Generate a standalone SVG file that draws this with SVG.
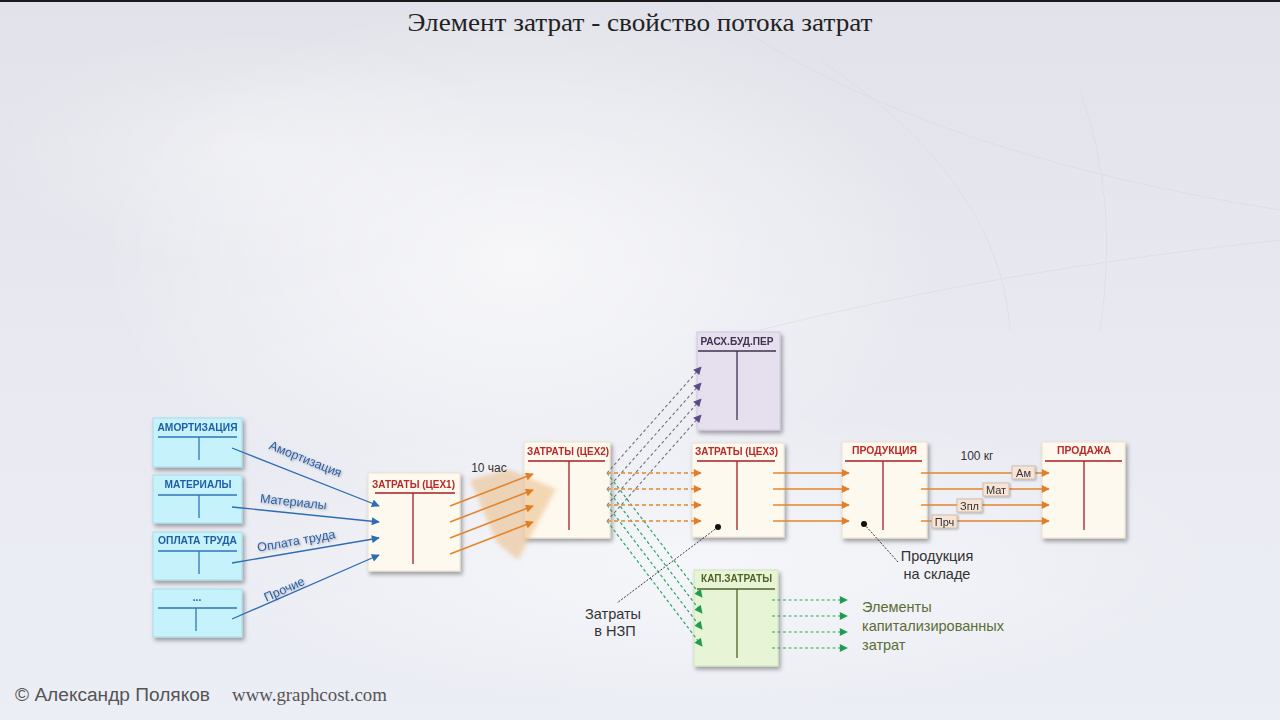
<svg xmlns="http://www.w3.org/2000/svg" width="1280" height="720" viewBox="0 0 1280 720">
<defs>
  <linearGradient id="bg" x1="0" y1="0" x2="0" y2="1">
    <stop offset="0" stop-color="#e2e3ea"/>
    <stop offset="0.5" stop-color="#e9eaf1"/>
    <stop offset="1" stop-color="#eceef5"/>
  </linearGradient>
  <radialGradient id="glow1" cx="0.5" cy="0.5" r="0.5">
    <stop offset="0" stop-color="#ffffff" stop-opacity="0.95"/>
    <stop offset="1" stop-color="#ffffff" stop-opacity="0"/>
  </radialGradient>
  <filter id="shadow" x="-20%" y="-20%" width="150%" height="150%">
    <feDropShadow dx="2" dy="3" stdDeviation="2.2" flood-color="#000" flood-opacity="0.35"/>
  </filter>
  <filter id="tshadow" x="-10%" y="-30%" width="120%" height="160%">
    <feDropShadow dx="1" dy="1" stdDeviation="0.8" flood-color="#000" flood-opacity="0.3"/>
  </filter>
  <filter id="blur2"><feGaussianBlur stdDeviation="2"/></filter>
  <marker id="mBlue" viewBox="0 0 10 10" refX="9" refY="5" markerWidth="9" markerHeight="8" markerUnits="userSpaceOnUse" orient="auto">
    <path d="M0,0 L10,5 L0,10 z" fill="#2e6db4"/>
  </marker>
  <marker id="mOrange" viewBox="0 0 10 10" refX="9" refY="5" markerWidth="9" markerHeight="8" markerUnits="userSpaceOnUse" orient="auto">
    <path d="M0,0 L10,5 L0,10 z" fill="#e07f28"/>
  </marker>
  <marker id="mPurple" viewBox="0 0 10 10" refX="9" refY="5" markerWidth="9" markerHeight="8" markerUnits="userSpaceOnUse" orient="auto">
    <path d="M0,0 L10,5 L0,10 z" fill="#5b4a86"/>
  </marker>
  <marker id="mGreen" viewBox="0 0 10 10" refX="9" refY="5" markerWidth="9" markerHeight="8" markerUnits="userSpaceOnUse" orient="auto">
    <path d="M0,0 L10,5 L0,10 z" fill="#1f9e4f"/>
  </marker>
  <style>
    .title { font-family: "Liberation Serif", "DejaVu Serif", serif; font-size: 25px; fill: #222; }
    .foot { font-family: "Liberation Sans", "DejaVu Sans", sans-serif; font-size: 18px; fill: #555; }
    .footw { font-family: "Liberation Serif", "DejaVu Serif", serif; font-size: 19px; fill: #555; }
    .cyan { fill: #c6f2fb; stroke: #a8dbe7; stroke-width: 1; }
    .cream { fill: #fdf9ee; stroke: #e9e2cf; stroke-width: 1; }
    .lav { fill: #e5dfee; stroke: #cfc7dd; stroke-width: 1; }
    .lgreen { fill: #e7f5d6; stroke: #cfe3bb; stroke-width: 1; }
    .hd { font-family: "Liberation Sans", "DejaVu Sans", sans-serif; font-size: 10px; font-weight: bold; text-anchor: middle; }
    .hblue { fill: #1f5fa8; }
    .hred { fill: #b82a26; }
    .hpur { fill: #3f3151; }
    .hgrn { fill: #4f6228; }
    .tblue { stroke: #2e75b6; stroke-width: 1.3; fill: none; }
    .tred { stroke: #a81e22; stroke-width: 1.3; fill: none; }
    .tpur { stroke: #3f3151; stroke-width: 1.3; fill: none; }
    .tgrn { stroke: #4f6228; stroke-width: 1.3; fill: none; }
    .blue { stroke: #2e6db4; stroke-width: 1.3; fill: none; }
    .or { stroke: #e5852d; stroke-width: 1.6; fill: none; }
    .ord { stroke: #e5852d; stroke-width: 1.5; fill: none; stroke-dasharray: 4 3; }
    .gry { stroke: #707078; stroke-width: 1.1; fill: none; stroke-dasharray: 3 2.5; }
    .grn { stroke: #2aa864; stroke-width: 1.2; fill: none; stroke-dasharray: 3 2.5; }
    .blk { stroke: #222; stroke-width: 0.9; fill: none; stroke-dasharray: 2 1.5; }
    .lbl { font-family: "Liberation Sans", "DejaVu Sans", sans-serif; font-size: 12.5px; fill: #2a5fa5; }
    .note { font-family: "Liberation Sans", "DejaVu Sans", sans-serif; font-size: 14.5px; fill: #333; text-anchor: middle; }
    .small { font-family: "Liberation Sans", "DejaVu Sans", sans-serif; font-size: 12px; fill: #333; text-anchor: middle; }
    .gnote { font-family: "Liberation Sans", "DejaVu Sans", sans-serif; font-size: 14.5px; fill: #5a6e33; }
    .tag { fill: #f7e4d6; stroke: #c9b5a5; stroke-width: 0.8; }
    .tagt { font-family: "Liberation Sans", "DejaVu Sans", sans-serif; font-size: 11px; fill: #333; text-anchor: middle; }
  </style>
</defs>

<!-- background -->
<rect x="0" y="0" width="1280" height="720" fill="url(#bg)"/>
<ellipse cx="520" cy="260" rx="420" ry="260" fill="url(#glow1)" opacity="0.7"/>
<ellipse cx="700" cy="560" rx="520" ry="150" fill="url(#glow1)" opacity="0.6"/>
<ellipse cx="250" cy="150" rx="260" ry="120" fill="url(#glow1)" opacity="0.35"/>
<g fill="none" stroke="#d3d6e0" stroke-width="1" opacity="0.5">
  <path d="M700 0 Q 900 150 1280 210"/>
  <path d="M760 330 Q 1000 270 1280 240"/>
  <path d="M820 60 Q 1000 180 1010 330"/>
  <path d="M1080 90 Q 1120 200 1100 330"/>
</g>
<rect x="0" y="0" width="1280" height="2" fill="#1a1a1a"/>

<!-- title -->
<text class="title" x="640" y="31" text-anchor="middle" textLength="465" lengthAdjust="spacingAndGlyphs">Элемент затрат - свойство потока затрат</text>

<!-- left source boxes -->
<g id="n-amort" filter="url(#shadow)">
  <rect class="cyan" x="153" y="418" width="89" height="49"/>
  <text class="hd hblue" x="197.5" y="431" textLength="80" lengthAdjust="spacingAndGlyphs">АМОРТИЗАЦИЯ</text>
  <line class="tblue" x1="158" y1="437" x2="237" y2="437"/>
  <line class="tblue" x1="199" y1="437" x2="199" y2="460"/>
</g>
<g id="n-mat" filter="url(#shadow)">
  <rect class="cyan" x="153" y="475" width="89" height="48"/>
  <text class="hd hblue" x="198" y="488" textLength="67" lengthAdjust="spacingAndGlyphs">МАТЕРИАЛЫ</text>
  <line class="tblue" x1="158" y1="495" x2="237" y2="495"/>
  <line class="tblue" x1="199" y1="495" x2="199" y2="518"/>
</g>
<g id="n-opl" filter="url(#shadow)">
  <rect class="cyan" x="153" y="532" width="89" height="48"/>
  <text class="hd hblue" x="197.5" y="544" textLength="79" lengthAdjust="spacingAndGlyphs">ОПЛАТА ТРУДА</text>
  <line class="tblue" x1="158" y1="551" x2="237" y2="551"/>
  <line class="tblue" x1="199" y1="551" x2="199" y2="574"/>
</g>
<g id="n-other" filter="url(#shadow)">
  <rect class="cyan" x="153" y="589" width="89" height="48"/>
  <text class="hd hblue" x="197" y="601" font-size="9">...</text>
  <line class="tblue" x1="158" y1="608" x2="237" y2="608"/>
  <line class="tblue" x1="196" y1="608" x2="196" y2="631"/>
</g>

<!-- accounts -->
<g id="n-tsekh1" filter="url(#shadow)">
  <rect class="cream" x="368" y="473" width="92" height="98"/>
  <text class="hd hred" x="413.5" y="488" textLength="83" lengthAdjust="spacingAndGlyphs">ЗАТРАТЫ (ЦЕХ1)</text>
  <line class="tred" x1="375" y1="493" x2="455" y2="493"/>
  <line class="tred" x1="413" y1="493" x2="413" y2="564"/>
</g>
<g id="n-tsekh2" filter="url(#shadow)">
  <rect class="cream" x="524" y="442" width="86" height="96"/>
  <text class="hd hred" x="568" y="455" textLength="82" lengthAdjust="spacingAndGlyphs">ЗАТРАТЫ (ЦЕХ2)</text>
  <line class="tred" x1="528" y1="461" x2="605" y2="461"/>
  <line class="tred" x1="569" y1="461" x2="569" y2="530"/>
</g>
<g id="n-rasx" filter="url(#shadow)">
  <rect class="lav" x="697" y="332" width="83" height="98"/>
  <text class="hd hpur" x="737" y="345" textLength="73" lengthAdjust="spacingAndGlyphs">РАСХ.БУД.ПЕР</text>
  <line class="tpur" x1="698" y1="351" x2="776" y2="351"/>
  <line class="tpur" x1="737" y1="351" x2="737" y2="420"/>
</g>
<g id="n-tsekh3" filter="url(#shadow)">
  <rect class="cream" x="692" y="443" width="92" height="94"/>
  <text class="hd hred" x="736.5" y="455" textLength="83" lengthAdjust="spacingAndGlyphs">ЗАТРАТЫ (ЦЕХ3)</text>
  <line class="tred" x1="697" y1="461" x2="775" y2="461"/>
  <line class="tred" x1="737" y1="461" x2="737" y2="530"/>
</g>
<g id="n-kap" filter="url(#shadow)">
  <rect class="lgreen" x="694" y="570" width="84" height="96"/>
  <text class="hd hgrn" x="736.5" y="582" textLength="71" lengthAdjust="spacingAndGlyphs">КАП.ЗАТРАТЫ</text>
  <line class="tgrn" x1="697" y1="589" x2="775" y2="589"/>
  <line class="tgrn" x1="737" y1="589" x2="737" y2="658"/>
</g>
<g id="n-prod" filter="url(#shadow)">
  <rect class="cream" x="842" y="442" width="85" height="96"/>
  <text class="hd hred" x="884.5" y="454" textLength="65" lengthAdjust="spacingAndGlyphs">ПРОДУКЦИЯ</text>
  <line class="tred" x1="845" y1="461" x2="922" y2="461"/>
  <line class="tred" x1="883" y1="461" x2="883" y2="530"/>
</g>
<g id="n-sale" filter="url(#shadow)">
  <rect class="cream" x="1042" y="442" width="83" height="96"/>
  <text class="hd hred" x="1084" y="454" textLength="54" lengthAdjust="spacingAndGlyphs">ПРОДАЖА</text>
  <line class="tred" x1="1045" y1="461" x2="1122" y2="461"/>
  <line class="tred" x1="1084" y1="461" x2="1084" y2="530"/>
</g>

<!-- big translucent arrow (over the box edge) -->
<g id="flow-arrow" filter="url(#blur2)" opacity="0.5">
  <polygon points="470,480 508,469 556,489 518,560 497,543" fill="#eab67a"/>
</g>

<!-- connectors -->
<g id="connectors">
  <line class="blue" x1="232" y1="448" x2="379" y2="506" marker-end="url(#mBlue)"/>
  <line class="blue" x1="232" y1="507" x2="379" y2="522" marker-end="url(#mBlue)"/>
  <line class="blue" x1="232" y1="563" x2="379" y2="538" marker-end="url(#mBlue)"/>
  <line class="blue" x1="232" y1="619" x2="379" y2="555" marker-end="url(#mBlue)"/>
  <line class="or" x1="450" y1="506" x2="533" y2="474" marker-end="url(#mOrange)"/>
  <line class="or" x1="450" y1="522" x2="533" y2="490" marker-end="url(#mOrange)"/>
  <line class="or" x1="450" y1="538" x2="533" y2="506" marker-end="url(#mOrange)"/>
  <line class="or" x1="450" y1="554" x2="533" y2="522" marker-end="url(#mOrange)"/>
  <line class="gry" x1="607" y1="473" x2="701" y2="367" marker-end="url(#mPurple)"/>
  <line class="gry" x1="607" y1="489" x2="701" y2="383" marker-end="url(#mPurple)"/>
  <line class="gry" x1="607" y1="505" x2="701" y2="399" marker-end="url(#mPurple)"/>
  <line class="gry" x1="607" y1="521" x2="701" y2="415" marker-end="url(#mPurple)"/>
  <line class="grn" x1="607" y1="473" x2="702" y2="597" marker-end="url(#mGreen)"/>
  <line class="grn" x1="607" y1="489" x2="702" y2="613" marker-end="url(#mGreen)"/>
  <line class="grn" x1="607" y1="505" x2="702" y2="629" marker-end="url(#mGreen)"/>
  <line class="grn" x1="607" y1="521" x2="702" y2="646" marker-end="url(#mGreen)"/>
  <line class="ord" x1="607" y1="473" x2="701" y2="473" marker-end="url(#mOrange)"/>
  <line class="ord" x1="607" y1="489" x2="701" y2="489" marker-end="url(#mOrange)"/>
  <line class="ord" x1="607" y1="505" x2="701" y2="505" marker-end="url(#mOrange)"/>
  <line class="ord" x1="607" y1="521" x2="701" y2="521" marker-end="url(#mOrange)"/>
  <line class="or" x1="773" y1="473" x2="849" y2="473" marker-end="url(#mOrange)"/>
  <line class="or" x1="773" y1="489" x2="849" y2="489" marker-end="url(#mOrange)"/>
  <line class="or" x1="773" y1="505" x2="849" y2="505" marker-end="url(#mOrange)"/>
  <line class="or" x1="773" y1="521" x2="849" y2="521" marker-end="url(#mOrange)"/>
  <line class="or" x1="921" y1="473" x2="1049" y2="473" marker-end="url(#mOrange)"/>
  <line class="or" x1="921" y1="489" x2="1049" y2="489" marker-end="url(#mOrange)"/>
  <line class="or" x1="921" y1="505" x2="1049" y2="505" marker-end="url(#mOrange)"/>
  <line class="or" x1="921" y1="521" x2="1049" y2="521" marker-end="url(#mOrange)"/>
  <line class="grn" x1="772" y1="600" x2="847" y2="600" marker-end="url(#mGreen)"/>
  <line class="grn" x1="772" y1="616" x2="847" y2="616" marker-end="url(#mGreen)"/>
  <line class="grn" x1="772" y1="632" x2="847" y2="632" marker-end="url(#mGreen)"/>
  <line class="grn" x1="772" y1="648" x2="847" y2="648" marker-end="url(#mGreen)"/>
  <line class="blk" x1="718" y1="527" x2="617" y2="603"/>
  <circle cx="718" cy="527" r="3" fill="#111"/>
  <line class="blk" x1="864" y1="524" x2="898" y2="562"/>
  <circle cx="864" cy="524" r="3" fill="#111"/>
</g>

<!-- connector labels -->
<g id="labels" filter="url(#tshadow)">
  <text class="lbl" transform="translate(304,463) rotate(22)" text-anchor="middle">Амортизация</text>
  <text class="lbl" transform="translate(293,506) rotate(6)" text-anchor="middle">Материалы</text>
  <text class="lbl" transform="translate(297,545) rotate(-10)" text-anchor="middle">Оплата труда</text>
  <text class="lbl" transform="translate(286,593) rotate(-24)" text-anchor="middle">Прочие</text>
</g>
<text class="small" x="489" y="472">10 час</text>
<text class="small" x="977" y="460">100 кг</text>

<!-- element tags -->
<g id="tags" filter="url(#tshadow)">
  <rect class="tag" x="1012" y="466" width="23" height="13"/>
  <text class="tagt" x="1023.5" y="476.5">Ам</text>
  <rect class="tag" x="983" y="483" width="26" height="13"/>
  <text class="tagt" x="996" y="493.5">Мат</text>
  <rect class="tag" x="957" y="499" width="25" height="13"/>
  <text class="tagt" x="969.5" y="509.5">Зпл</text>
  <rect class="tag" x="932" y="515" width="25" height="13"/>
  <text class="tagt" x="944.5" y="525.5">Прч</text>
</g>

<!-- notes -->
<text class="note" x="937" y="561">Продукция</text>
<text class="note" x="937" y="579">на складе</text>
<text class="note" x="613" y="619">Затраты</text>
<text class="note" x="615" y="636">в НЗП</text>
<text class="gnote" x="862" y="612">Элементы</text>
<text class="gnote" x="862" y="631">капитализированных</text>
<text class="gnote" x="862" y="650">затрат</text>

<!-- footer -->
<text class="foot" x="15" y="701" textLength="195" lengthAdjust="spacingAndGlyphs">© Александр Поляков</text>
<text class="footw" x="232" y="701" textLength="155" lengthAdjust="spacingAndGlyphs">www.graphcost.com</text>
</svg>
